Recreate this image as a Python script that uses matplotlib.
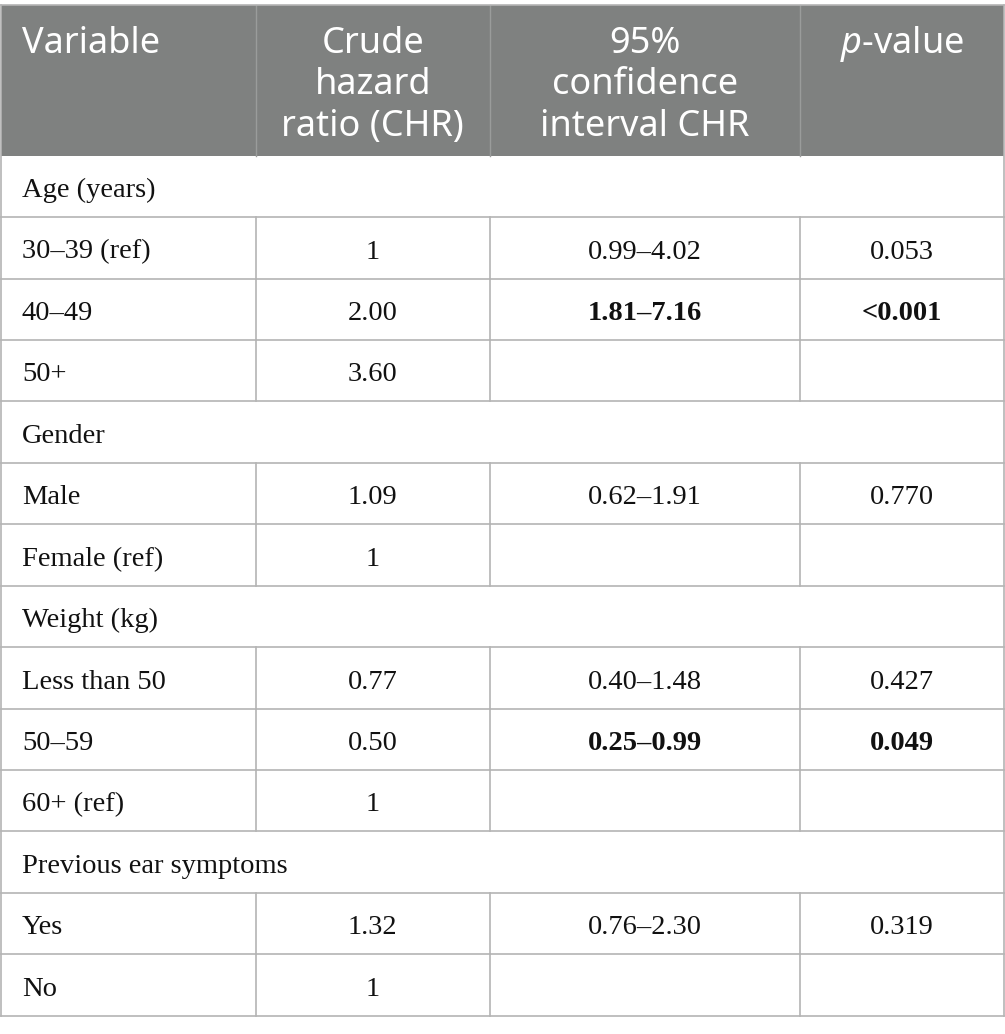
import matplotlib
matplotlib.use("Agg")
import matplotlib.pyplot as plt

# ---- data ----
headers = [["Variable"], ["Crude", "hazard", "ratio (CHR)"],
           ["95%", "confidence", "interval CHR"], ["$\\it{p}$-value"]]
variables = ["Age (years)", "30\u201339 (ref)", "40\u201349", "50+",
             "Gender", "Male", "Female (ref)",
             "Weight (kg)", "Less than 50", "50\u201359", "60+ (ref)",
             "Previous ear symptoms", "Yes", "No"]
is_group = [True, False, False, False, True, False, False,
            True, False, False, False, True, False, False]
chr_vals = ["", "1", "2.00", "3.60", "", "1.09", "1", "", "0.77", "0.50", "1", "", "1.32", "1"]
ci_vals = ["", "0.99\u20134.02", "1.81\u20137.16", "", "", "0.62\u20131.91", "", "",
           "0.40\u20131.48", "0.25\u20130.99", "", "", "0.76\u20132.30", ""]
p_vals = ["", "0.053", "<0.001", "", "", "0.770", "", "", "0.427", "0.049", "", "", "0.319", ""]
bold_rows = [2, 9]

# ---- layout ----
W, H = 1005, 1034
col_edges = [1, 255.5, 490, 799.5, 1004]
top = 4.5
header_bottom = 155.7
row_h = (1015.7 - header_bottom) / len(variables)
header_color = "#7f8180"
line_color = "#b4b4b4"

fig = plt.figure(figsize=(W / 100, H / 100), dpi=100)
ax = fig.add_axes([0, 0, 1, 1])
ax.set_xlim(0, W)
ax.set_ylim(H, 0)
ax.axis("off")

# header background
ax.add_patch(plt.Rectangle((col_edges[0], top), col_edges[-1] - col_edges[0],
                           header_bottom - top, facecolor=header_color, edgecolor="none"))
for x in col_edges[1:-1]:
    ax.plot([x, x], [top, header_bottom], color="#9a9c9b", lw=1)

plt.rcParams["mathtext.fontset"] = "custom"
plt.rcParams["mathtext.it"] = "Noto Sans:italic"
hfont = dict(family="Noto Sans", size=26, color="white")
line_gap = 41.5
first_base = 53
for ci, lines in enumerate(headers):
    for li, t in enumerate(lines):
        y = first_base + li * line_gap
        if ci == 0:
            ax.text(22, y, t, ha="left", va="baseline", **hfont)
        else:
            xc = (col_edges[ci] + col_edges[ci + 1]) / 2
            ax.text(xc, y, t, ha="center", va="baseline", **hfont)

bfont = dict(family="Liberation Serif", size=20.5, color="#111111")
bottom = header_bottom + row_h * len(variables)
ax.plot([col_edges[0], col_edges[0]], [top, bottom], color=line_color, lw=1.2)
ax.plot([col_edges[-1], col_edges[-1]], [top, bottom], color=line_color, lw=1.2)
ax.plot([col_edges[0], col_edges[-1]], [top, top], color=line_color, lw=1.2)

for r, name in enumerate(variables):
    y0 = header_bottom + r * row_h
    y1 = y0 + row_h
    ax.plot([col_edges[0], col_edges[-1]], [y1, y1], color=line_color, lw=1.2)
    if not is_group[r]:
        for x in col_edges[1:-1]:
            ax.plot([x, x], [y0, y1], color=line_color, lw=1.2)
    yb = y0 + row_h / 2 + 10.7
    ax.text(22, yb, name, ha="left", va="baseline", **bfont)
    vals = [chr_vals[r], ci_vals[r], p_vals[r]]
    for ci, v in enumerate(vals):
        if not v:
            continue
        xc = (col_edges[ci + 1] + col_edges[ci + 2]) / 2
        w = "bold" if (r in bold_rows and ci > 0) else "normal"
        ax.text(xc, yb, v, ha="center", va="baseline", fontweight=w, **bfont)

fig.savefig("out.png", dpi=100, facecolor="white")
